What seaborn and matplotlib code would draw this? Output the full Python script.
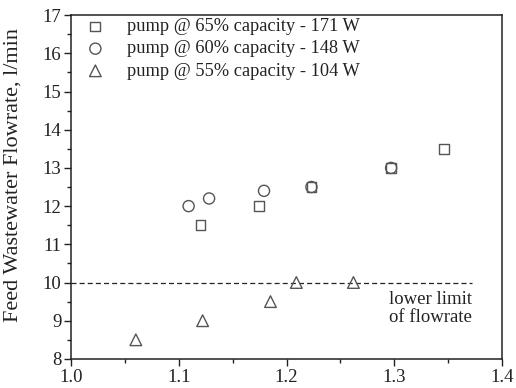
import numpy as np
import pandas as pd
import matplotlib.pyplot as plt
import seaborn as sns
from matplotlib.ticker import MultipleLocator

x_65 = [1.120, 1.174, 1.223, 1.297, 1.346]
y_65 = [11.5, 12.0, 12.5, 13.0, 13.5]
x_60 = [1.109, 1.128, 1.179, 1.223, 1.297]
y_60 = [12.0, 12.2, 12.4, 12.5, 13.0]
x_55 = [1.060, 1.122, 1.185, 1.209, 1.262]
y_55 = [8.5, 9.0, 9.5, 10.0, 10.0]
labels = ["pump @ 65% capacity - 171 W",
          "pump @ 60% capacity - 148 W",
          "pump @ 55% capacity - 104 W"]
limit_y = 10.0
limit_x_end = 1.372

df = pd.concat([
    pd.DataFrame({"ratio": x_65, "flow": y_65, "pump": labels[0]}),
    pd.DataFrame({"ratio": x_60, "flow": y_60, "pump": labels[1]}),
    pd.DataFrame({"ratio": x_55, "flow": y_55, "pump": labels[2]}),
])

sns.set_style("ticks")
plt.rcParams["font.family"] = ["Liberation Serif", "DejaVu Serif"]

fig, ax = plt.subplots(figsize=(5.16, 3.88), dpi=100)
fig.subplots_adjust(left=0.138, right=0.973, top=0.961, bottom=0.075)

ax.plot([1.0, limit_x_end], [limit_y, limit_y], ls="--", color="#222222", lw=0.9, dashes=(4, 2.5), zorder=1)

marks = {labels[0]: "s", labels[1]: "o", labels[2]: "^"}
sizes = {labels[0]: 50, labels[1]: 64, labels[2]: 70}
for lab in labels:
    sub = df[df["pump"] == lab]
    sns.scatterplot(data=sub, x="ratio", y="flow", marker=marks[lab], s=sizes[lab],
                    facecolor="none", edgecolor="#555555", linewidth=1.0, ax=ax,
                    label=lab, zorder=3)

ax.text(limit_x_end, limit_y - 0.22, "lower limit\nof flowrate", ha="right", va="top",
        fontsize=13.5, color="#222222", linespacing=1.1)

ax.set_xlim(1.0, 1.4)
ax.set_ylim(8, 17)
ax.xaxis.set_major_locator(MultipleLocator(0.1))
ax.xaxis.set_minor_locator(MultipleLocator(0.05))
ax.yaxis.set_major_locator(MultipleLocator(1))
ax.yaxis.set_minor_locator(MultipleLocator(0.5))
ax.xaxis.set_major_formatter(plt.FormatStrFormatter("%.1f"))
ax.tick_params(which="major", direction="out", length=5, width=1, labelsize=13.5, colors="#222222", pad=2)
ax.tick_params(which="minor", direction="out", length=3, width=1, colors="#222222")
for sp in ax.spines.values():
    sp.set_linewidth(1.1)
    sp.set_color("#222222")
    sp.set_visible(True)

ax.set_xlabel("")
ax.set_ylabel("Feed Wastewater Flowrate, l/min", fontsize=16, color="#222222")
ax.yaxis.set_label_coords(-0.112, 0.535)

leg = ax.legend(loc="upper left", frameon=False, fontsize=13.2, handletextpad=0.9,
                borderaxespad=0.0, labelspacing=0.28, bbox_to_anchor=(0.005, 1.012),
                handlelength=1.6)
for t in leg.get_texts():
    t.set_color("#222222")

fig.savefig("out.png", dpi=100)
